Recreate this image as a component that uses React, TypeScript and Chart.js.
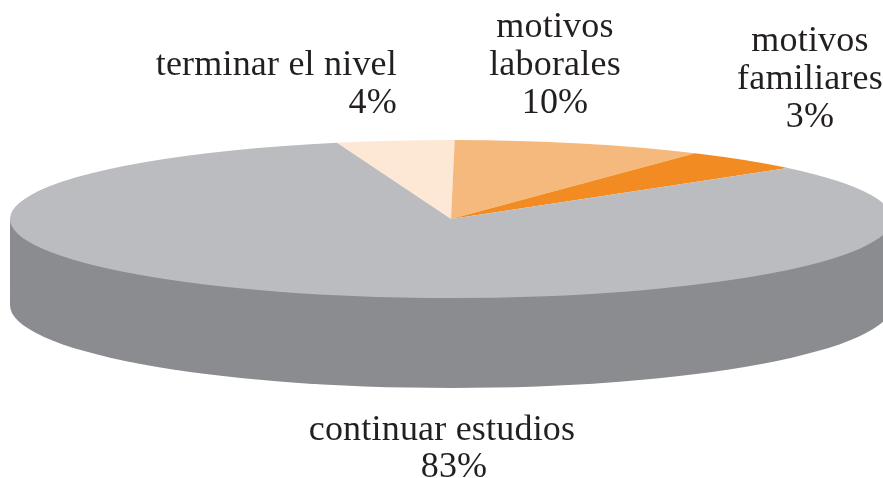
import React, { useEffect, useRef } from "react";
import { Chart, registerables } from "chart.js";

Chart.register(...registerables);

// Slice names and the percentages printed beside them.
const categories = ["terminar el nivel", "motivos laborales", "motivos familiares", "continuar estudios"];
const printedPercents = ["4%", "10%", "3%", "83%"];
// Slice shares as they are drawn in the picture (measured from the slice edges).
const drawnShares = [4.3, 9.2, 4.5, 82.0];
const sliceColors = ["#fce8d5", "#f6b97d", "#f28c22", "#bbbcc0"];
const wallColor = "#8b8c90";
const textColor = "#231f20";

const startAngle = -15;
const FONT = '36px "Liberation Serif", serif';
const LINE = 38;

// Ellipse geometry of the tilted disc.
const disc = { cx: 451, cy: 219, rx: 441, ry: 79 };
const wallBase = { cy: 305, ry: 83 };

// Label blocks: lines, horizontal anchor, alignment, first baseline.
const labelBlocks = [
  { lines: ["terminar el nivel", printedPercents[0]], x: 397, y: 75, align: "right" },
  { lines: ["motivos", "laborales", printedPercents[1]], x: 555, y: 37, align: "center" },
  { lines: ["motivos", "familiares", printedPercents[2]], x: 810, y: 51, align: "center" },
  { lines: ["continuar estudios"], x: 442, y: 440, align: "center" },
  { lines: [printedPercents[3]], x: 454, y: 477, align: "center" },
];

const tiltPlugin = {
  id: "tilt",
  beforeDatasetsDraw(chart: any) {
    const { ctx } = chart;
    const arc = chart.getDatasetMeta(0).data[0];
    // side wall of the disc
    ctx.save();
    ctx.fillStyle = wallColor;
    ctx.fillRect(disc.cx - disc.rx, disc.cy, disc.rx * 2, wallBase.cy - disc.cy);
    ctx.beginPath();
    ctx.ellipse(disc.cx, wallBase.cy, disc.rx, wallBase.ry, 0, 0, Math.PI * 2);
    ctx.fill();
    ctx.restore();
    // squash the pie into the disc's ellipse
    ctx.save();
    ctx.translate(disc.cx, disc.cy);
    ctx.scale(disc.rx / arc.outerRadius, disc.ry / arc.outerRadius);
    ctx.translate(-arc.x, -arc.y);
  },
  afterDatasetsDraw(chart: any) {
    const { ctx } = chart;
    ctx.restore();
    ctx.save();
    ctx.font = FONT;
    ctx.fillStyle = textColor;
    ctx.textBaseline = "alphabetic";
    ctx.letterSpacing = "0.2px";
    labelBlocks.forEach((b) => {
      ctx.textAlign = b.align;
      b.lines.forEach((t, i) => ctx.fillText(t, b.x, b.y + i * LINE));
    });
    ctx.restore();
  },
};

export default function App() {
  const ref = useRef<HTMLCanvasElement>(null);
  useEffect(() => {
    const chart = new Chart(ref.current!, {
      type: "pie",
      data: {
        labels: categories,
        datasets: [{ data: drawnShares, backgroundColor: sliceColors, borderWidth: 0, clip: false } as any],
      },
      options: {
        animation: false,
        responsive: false,
        rotation: startAngle,
        layout: { padding: 0 },
        plugins: { legend: { display: false }, tooltip: { enabled: false } },
        events: [],
      },
      plugins: [tiltPlugin],
    });
    return () => chart.destroy();
  }, []);
  return (
    <div style={{ position: "fixed", left: 0, top: 0, width: 883, height: 478, background: "#fff" }}>
      <canvas ref={ref} width={883} height={478} style={{ display: "block" }} />
    </div>
  );
}
